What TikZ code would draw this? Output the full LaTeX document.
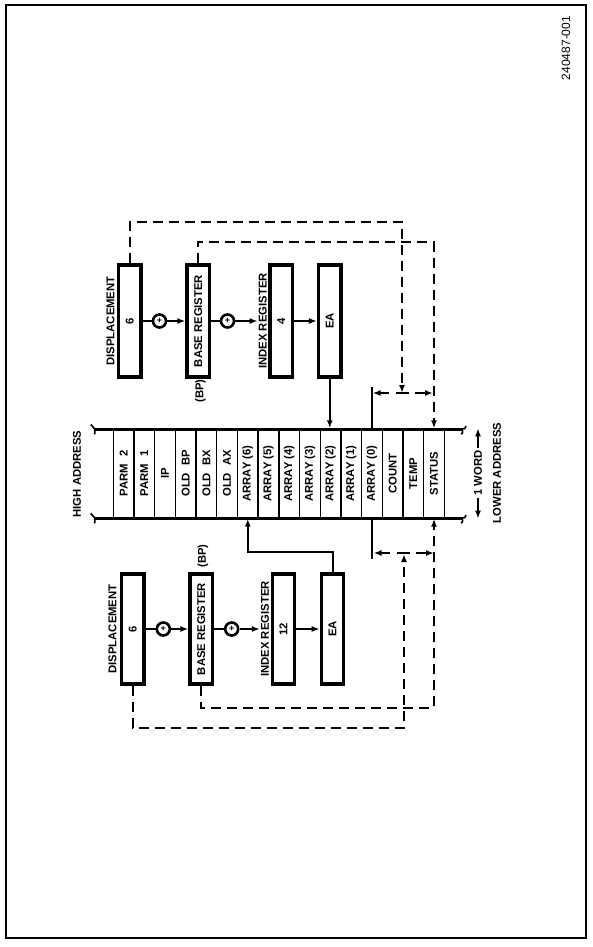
\documentclass[tikz,border=0pt]{standalone}
\usepackage{fontspec}
\setmainfont{Liberation Sans}
\usepackage{graphicx}
\usetikzlibrary{arrows.meta}
\begin{document}
\begin{tikzpicture}[x=1pt,y=-1pt,
  font=\fontsize{11.3}{12}\selectfont\bfseries,
  reg/.style={draw, line width=3.2pt, minimum width=22.5pt, inner sep=0pt},
  regU/.style={reg, minimum height=112pt},
  regL/.style={reg, minimum height=110pt},
  adder/.style={circle, draw, line width=2.6pt, minimum size=13pt, inner sep=0pt, font=\fontsize{9}{9}\selectfont\bfseries},
  lab/.style={inner sep=0pt},
  cellbox/.style={draw, line width=1.4pt, minimum width=20.69pt, minimum height=89pt, inner sep=0pt},
  conn/.style={line width=2pt},
  tip/.style={-{Latex[length=8pt,width=6pt]}},
  dline/.style={line width=2pt, dash pattern=on 10pt off 6pt},
  mem/.style={line width=3pt},
]
\useasboundingbox (0,0) rectangle (593,947);
\draw[line width=2.4pt] (6,5) rectangle (586,938);
\node[lab, font=\fontsize{12}{12}\selectfont] (fig) at (566,48) {\rotatebox{90}{240487-001}};

% memory
\foreach \t [count=\i from 0] in {PARM\hspace{7pt}2, PARM\hspace{7pt}1, IP, OLD\hspace{7pt}BP, OLD\hspace{7pt}BX, OLD\hspace{7pt}AX, ARRAY (6), ARRAY (5), ARRAY (4), ARRAY (3), ARRAY (2), ARRAY (1), ARRAY (0), COUNT, TEMP, STATUS}
  \node[cellbox] (c\i) at ({113.3+20.69*(\i+0.5)},473.5) {\rotatebox{90}{\t}};
\coordinate (mtl) at (95,429);
\coordinate (mtr) at (462,429);
\coordinate (mbl) at (95,518);
\coordinate (mbr) at (462,518);
\draw[mem] (mtl) -- (mtr);
\draw[mem] (mbl) -- (mbr);
\foreach \p in {mtl,mbl}
  \draw[line width=1.6pt] (\p) .. controls ++(-2,-1) and ++(0,-3) .. ++(-4,-3);
\foreach \p in {mtl,mbl}
  \draw[line width=1.6pt] (\p) .. controls ++(-1,1) and ++(2,0) .. ++(-1,5);
\foreach \p in {mtr,mbr}
  \draw[line width=1.6pt] (\p) .. controls ++(2,0) and ++(0,3) .. ++(4,-3);
\foreach \p in {mtr,mbr}
  \draw[line width=1.6pt] (\p) .. controls ++(1,1) and ++(2,0) .. ++(-1,5);

\node[lab] (high) at (77,474) {\rotatebox{90}{HIGH ADDRESS}};
\node[lab] (low) at (497,473) {\rotatebox{90}{LOWER ADDRESS}};
\node[lab, inner sep=2pt] (word) at (478,473) {\rotatebox{90}{1 WORD}};
\draw[conn,tip] (word.north) -- (word.north |- c0.north);
\draw[conn,tip] (word.south) -- (word.south |- c0.south);

% upper address computation
\node[regU] (dispU) at (129.75,321) {\rotatebox{90}{6}};
\node[regU] (baseU) at (198.25,321) {\rotatebox{90}{BASE REGISTER}};
\node[regU] (idxU) at (281.25,321) {\rotatebox{90}{4}};
\node[regU] (eaU) at (329.75,321) {\rotatebox{90}{EA}};
\node[adder] (plusU1) at (159.5,321) {+};
\node[adder] (plusU2) at (227.5,321) {+};
\node[lab] (dispUlab) at (110.5,321) {\rotatebox{90}{DISPLACEMENT}};
\node[lab] (idxUlab) at (262.8,321) {\rotatebox{90}{INDEX REGISTER}};
\node[lab] (bpU) at (200.5,391) {\rotatebox{90}{(BP)}};
\draw[conn] (dispU.east) -- (plusU1);
\draw[conn,tip] (plusU1) -- (baseU.west);
\draw[conn] (baseU.east) -- (plusU2);
\draw[conn,tip] (plusU2) -- ([xshift=-1pt]idxUlab.west);
\draw[conn,tip] (idxU.east) -- (eaU.west);
\draw[conn,tip] (eaU.south) -- (eaU.south |- c10.north);

\coordinate (dUc) at (402,393);
\draw[dline,tip] (dispU.north) -- ++(0,-41) -| (dUc);
\draw[dline,tip] (baseU.north) -- ++(0,-21) -| (c15.north);
\draw[conn] (c12.north) -- ++(0,-41);
\draw[conn,tip] (389,393) -- (372.5,393);
\draw[conn] (396,393) -- (409,393);
\draw[conn,tip] (415,393) -- (433,393);

% lower address computation
\node[regL] (dispL) at (132.8,629) {\rotatebox{90}{6}};
\node[regL] (baseL) at (201.3,629) {\rotatebox{90}{BASE REGISTER}};
\node[regL] (idxL) at (283.5,629) {\rotatebox{90}{12}};
\node[regL] (eaL) at (332.5,629) {\rotatebox{90}{EA}};
\node[adder] (plusL1) at (163.3,629) {+};
\node[adder] (plusL2) at (231.7,629) {+};
\node[lab] (dispLlab) at (112.5,629) {\rotatebox{90}{DISPLACEMENT}};
\node[lab] (idxLlab) at (265,629) {\rotatebox{90}{INDEX REGISTER}};
\node[lab] (bpL) at (203,556) {\rotatebox{90}{(BP)}};
\draw[conn] (dispL.east) -- (plusL1);
\draw[conn,tip] (plusL1) -- (baseL.west);
\draw[conn] (baseL.east) -- (plusL2);
\draw[conn,tip] (plusL2) -- ([xshift=-1pt]idxLlab.west);
\draw[conn,tip] (idxL.east) -- (eaL.west);
\draw[conn,tip] (eaL.north) -- ++(0,-20) -| (c6.south);

\coordinate (dLc) at (404,554);
\draw[dline,tip] (dispL.south) -- ++(0,42) -| (dLc);
\draw[dline,tip] (baseL.south) -- ++(0,22) -| (c15.south);
\draw[conn] (c12.south) -- ++(0,40);
\draw[conn,tip] (390,553) -- (373.5,553);
\draw[conn] (397,553) -- (410,553);
\draw[conn,tip] (416,553) -- (434,553);
\end{tikzpicture}
\end{document}
